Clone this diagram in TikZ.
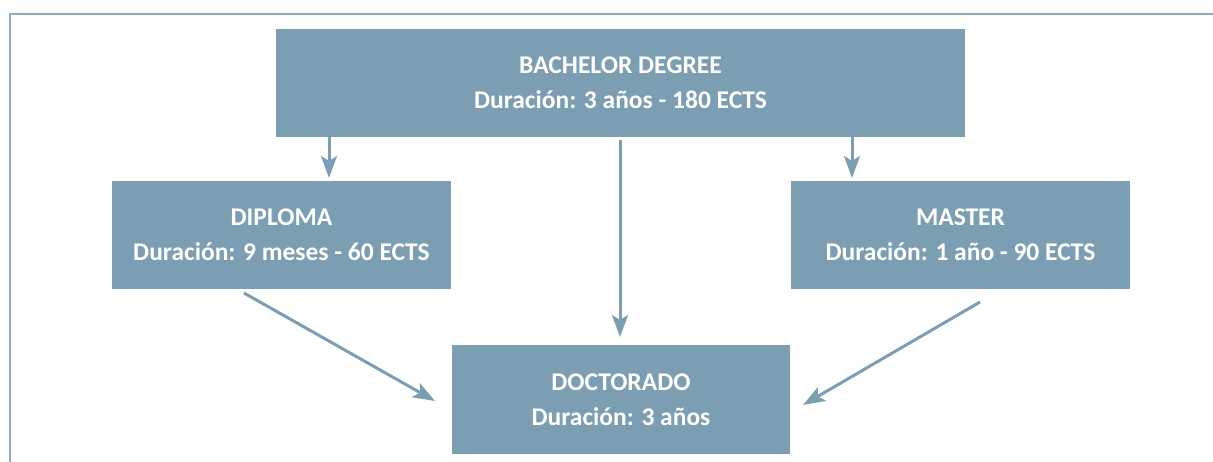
\documentclass[tikz,border=0pt]{standalone}
\usepackage{fontspec}
\setmainfont{Carlito}
\usetikzlibrary{arrows.meta}
\definecolor{boxblue}{HTML}{7B9EB2}
\definecolor{framecol}{HTML}{8FADC2}
\begin{document}
\begin{tikzpicture}[x=1pt,y=-1pt,
  box/.style={rectangle, fill=boxblue, inner sep=0pt, text=white, align=center,
    font=\bfseries\fontsize{25.5}{35}\selectfont},
  conn/.style={draw=boxblue, line width=3pt, -{Stealth[length=22pt,width=16pt,inset=5pt]}}]
\useasboundingbox (0,0) rectangle (1213,462);
\draw[framecol, line width=2pt] (10,462) -- (10,14) -- (1213,14);
\node[box, minimum width=689pt, minimum height=108pt] (bach) at (620.5,83) {BACHELOR DEGREE\\Duración: 3 años - 180 ECTS};
\node[box, minimum width=339pt, minimum height=108pt] (dip) at (281.5,235) {DIPLOMA\\Duración: 9 meses - 60 ECTS};
\node[box, minimum width=339pt, minimum height=108pt] (mas) at (960.5,235) {MASTER\\Duración: 1 año - 90 ECTS};
\node[box, minimum width=338pt, minimum height=109pt] (doc) at (621,399.5) {DOCTORADO\\Duración: 3 años};
\coordinate (a1s) at (329,137); \coordinate (a1e) at (329,178);
\coordinate (a2s) at (852,137); \coordinate (a2e) at (852,178);
\coordinate (a3s) at (620,140); \coordinate (a3e) at (620,337);
\coordinate (a4s) at (244,293); \coordinate (a4e) at (435,401);
\coordinate (a5s) at (980,302); \coordinate (a5e) at (803,405);
\draw[conn] (a1s) -- (a1e);
\draw[conn] (a2s) -- (a2e);
\draw[conn] (a3s) -- (a3e);
\draw[conn] (a4s) -- (a4e);
\draw[conn] (a5s) -- (a5e);
\end{tikzpicture}
\end{document}
